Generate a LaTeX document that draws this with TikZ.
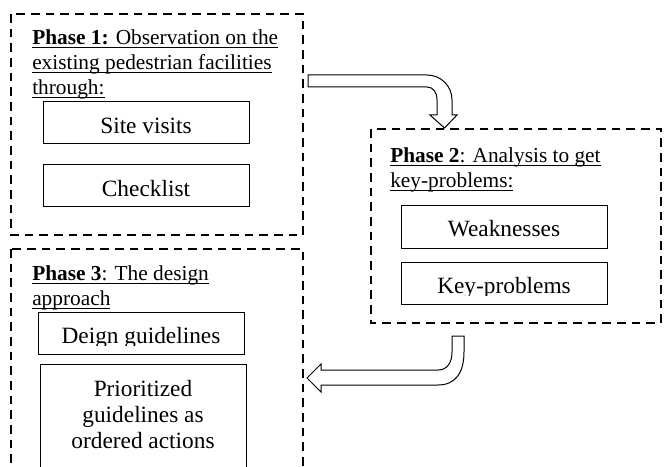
\documentclass[tikz,border=0pt]{standalone}
\usepackage{tikz}
\usepackage{xcolor}
\usepackage{amsmath}
\usepackage{fontspec}
\setmainfont{Liberation Serif}

\newcommand{\phaseul}[1]{\underline{\smash[b]{#1}}}

\begin{document}
\begin{tikzpicture}[x=0.75pt,y=-0.75pt,
	phasebox/.style={draw, line width=1.8pt, dash pattern=on 6.5pt off 4.5pt},
	phasetext/.style={anchor=north west, inner sep=0pt, align=left,
		font=\fontsize{16}{18.9}\selectfont},
	itembox/.style={draw, line width=0.75pt, inner sep=0pt, outer sep=0pt,
		minimum width=154.5pt, minimum height=31.5pt,
		text height=15pt, text depth=0pt,
		font=\fontsize{17.5}{19.5}\selectfont},
	blockarrow/.style={draw, line width=0.75pt, fill=white, line join=miter}]
	
	\useasboundingbox (0,0) rectangle (665,467);
	\clip (0,0) rectangle (665,467);
	
	\draw[phasebox] (11,14) rectangle (303,235);
	\draw[phasebox] (371,129) rectangle (661,323);
	\draw[phasebox] (11,249) rectangle (303,490);
	
	\node[phasetext] (head1) at (32,29) {\phaseul{\textbf{Phase 1:} Observation on the}\\
		\phaseul{existing pedestrian facilities}\\\phaseul{through:}};
	\node[phasetext] (head2) at (390,147) {\phaseul{\textbf{Phase 2}: Analysis to get}\\
		\phaseul{key-problems:}};
	\node[phasetext] (head3) at (32,265) {\phaseul{\textbf{Phase 3}: The design}\\
		\phaseul{approach}};
	
	\node[itembox] (site) at (146,123) {Site visits};
	\node[itembox] (checklist) at (146,186) {Checklist};
	
	\node[itembox] (weak) at (504,227) {Weaknesses};
	\begin{scope}
		\clip (390,250) rectangle (620,295);
		\node[itembox, draw=none] (keyprob) at (504,283) {Key-problems};
	\end{scope}
	\draw[line width=0.75pt] (keyprob.south west) rectangle (keyprob.north east);
	
	\begin{scope}
		\clip (20,300) rectangle (260,345);
		\node[itembox, draw=none] (deign) at (141,333) {Deign guidelines};
	\end{scope}
	\draw[line width=0.75pt] (deign.south west) rectangle (deign.north east);
	
	\draw[line width=0.75pt] (40,364) rectangle (246,490);
	\node[anchor=north, inner sep=0pt, align=center,
		font=\fontsize{17.5}{19.5}\selectfont] (prio) at (143,380)
		{Prioritized\\guidelines as\\ordered actions};
	
	\draw[blockarrow] (308,75) -- (427,75) .. controls (441,75) and (452,86) .. (452,100)
		-- (452,115) -- (457,115) -- (444.5,128) -- (430,115) -- (437,115) -- (437,100)
		.. controls (437,92) and (433,87) .. (427,87) -- (308,87) -- cycle;
	\draw[blockarrow] (452,336) -- (452,352) .. controls (452,363) and (447,370) .. (438,370)
		-- (321,370) -- (321,364) -- (307,378) -- (321,392) -- (321,385) -- (438,385)
		.. controls (456,385) and (464,372) .. (464,352) -- (464,336) -- cycle;
	
\end{tikzpicture}
\end{document}
